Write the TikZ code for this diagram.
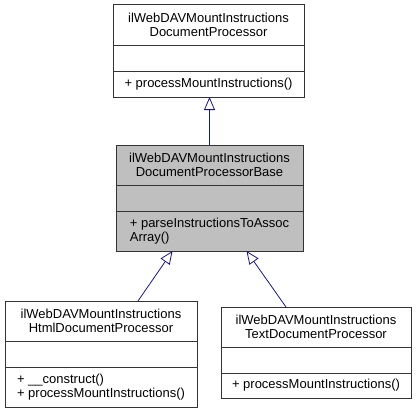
\documentclass[tikz,border=0pt]{standalone}
\usepackage{fontspec}
\setmainfont{Liberation Sans}
\usetikzlibrary{positioning, arrows.meta}
\definecolor{DoxBlue}{RGB}{25,25,112}
\definecolor{DoxGray}{RGB}{191,191,191}

\begin{document}
\begin{tikzpicture}[x=1pt, y=-1pt, every node/.style={font=\fontsize{13}{14.2}\selectfont}]
        \tikzstyle{cls} = [rectangle, draw=black!80, line width=1pt, outer sep=0pt,
          inner xsep=4pt, inner ysep=0pt]
        \tikzstyle{head} = [cls, align=center, minimum height=40pt]
        \tikzstyle{attr} = [cls, minimum height=26pt]
        \tikzstyle{meth} = [cls, align=left]
        \tikzstyle{inherit} = [draw=DoxBlue, line width=0.8pt,
          -{Triangle[open, length=13pt, width=11pt]}]

        \useasboundingbox (0,0) rectangle (419,412);

        \node[head, minimum width=191pt, anchor=north west] (prochead) at (113,5)
          {ilWebDAVMountInstructions\\DocumentProcessor};
        \node[attr, minimum width=191pt, below=0pt of prochead] (procattr) {};
        \node[meth, minimum width=191pt, minimum height=26pt, below=0pt of procattr] (procmeth)
          {+ processMountInstructions()};

        \node[head, fill=DoxGray, minimum width=187pt, anchor=north west] (basehead) at (116,145)
          {ilWebDAVMountInstructions\\DocumentProcessorBase};
        \node[attr, fill=DoxGray, minimum width=187pt, below=0pt of basehead] (baseattr) {};
        \node[meth, fill=DoxGray, minimum width=187pt, minimum height=40pt, below=0pt of baseattr] (basemeth)
          {+ parseInstructionsToAssoc\\Array()};

        \node[head, minimum width=192pt, anchor=north west] (htmlhead) at (5,301)
          {ilWebDAVMountInstructions\\HtmlDocumentProcessor};
        \node[attr, minimum width=192pt, below=0pt of htmlhead] (htmlattr) {};
        \node[meth, minimum width=192pt, minimum height=40pt, below=0pt of htmlattr] (htmlmeth)
          {+ \_\_construct()\\+ processMountInstructions()};

        \node[head, minimum width=190pt, anchor=north west] (texthead) at (221,307)
          {ilWebDAVMountInstructions\\TextDocumentProcessor};
        \node[attr, minimum width=190pt, below=0pt of texthead] (textattr) {};
        \node[meth, minimum width=190pt, minimum height=25pt, below=0pt of textattr] (textmeth)
          {+ processMountInstructions()};

        \draw[inherit] (basehead.north) -- (basehead.north |- procmeth.south);
        \draw[inherit] ([xshift=37pt]htmlhead.north) -- ([xshift=-37pt]basemeth.south);
        \draw[inherit] ([xshift=-30pt]texthead.north) -- ([xshift=37pt]basemeth.south);
      \end{tikzpicture}
\end{document}
